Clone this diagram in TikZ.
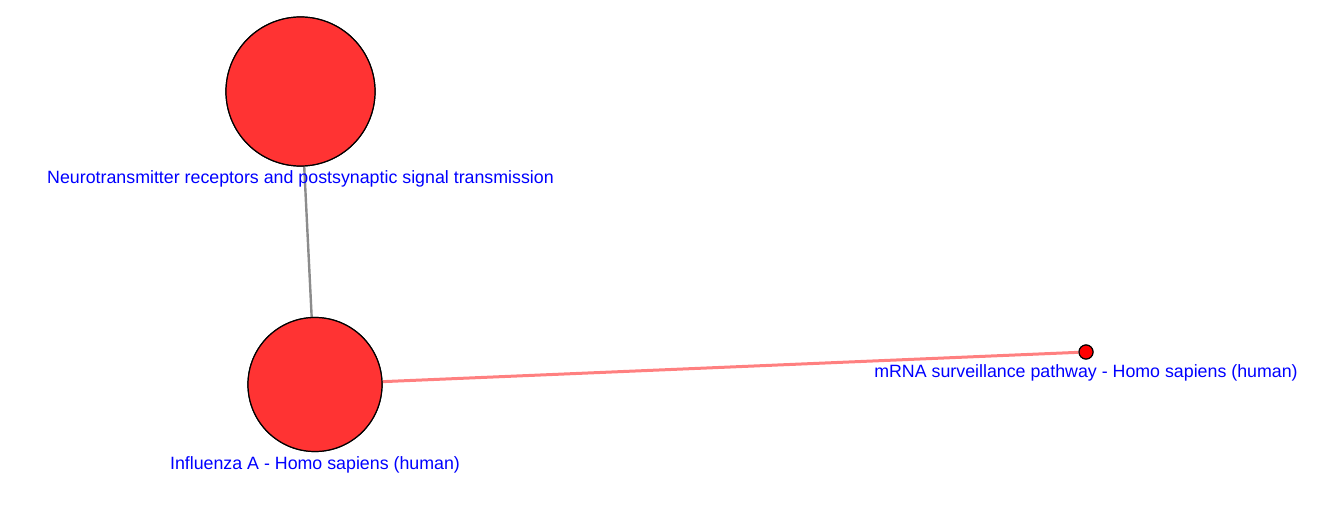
\documentclass[tikz,border=0pt]{standalone}
\usepackage{fontspec}
\setmainfont{Liberation Sans}
\begin{document}
\begin{tikzpicture}[x=1pt,y=-1pt,
  bignode/.style={circle,draw=black,line width=1.2pt,fill=nodered,inner sep=0pt},
  smallnode/.style={circle,draw=black,line width=1.1pt,fill=red,inner sep=0pt,minimum size=14pt},
  lbl/.style={text=blue,font=\fontsize{17.8}{20}\selectfont,inner sep=0pt,anchor=center},
  greyedge/.style={draw=gray!90,line width=2.4pt},
  pinkedge/.style={draw=edgepink,line width=3pt}]
\definecolor{nodered}{HTML}{FF3333}
\definecolor{edgepink}{HTML}{FF8080}
\useasboundingbox (0,0) rectangle (1338,511);
\node[bignode,minimum size=149pt] (n1) at (300.5,91.5) {};
\node[bignode,minimum size=134pt] (n2) at (315,384.5) {};
\node[smallnode] (n3) at (1086,352) {};
\draw[greyedge] (n1) -- (n2);
\draw[pinkedge] (n2) -- (n3);
\node[bignode,minimum size=149pt] at (n1) {};
\node[bignode,minimum size=134pt] at (n2) {};
\node[smallnode] at (n3) {};
\node[lbl] (l1) at (300.5,179) {Neurotransmitter receptors and postsynaptic signal transmission};
\node[lbl] (l2) at (315,465) {Influenza A - Homo sapiens (human)};
\node[lbl] (l3) at (1086,373) {mRNA surveillance pathway - Homo sapiens (human)};
\end{tikzpicture}
\end{document}
